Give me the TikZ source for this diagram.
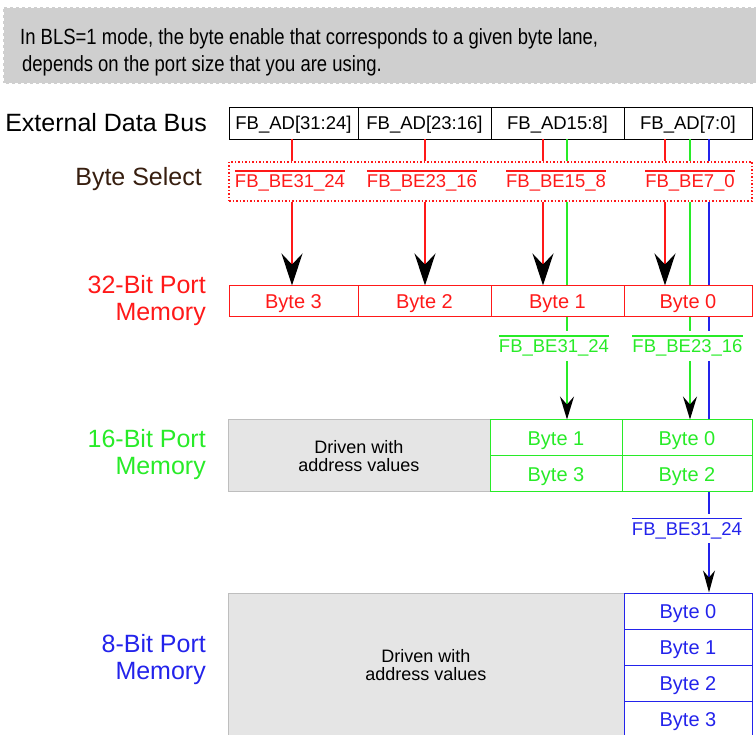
\documentclass[tikz,border=0pt]{standalone}
\usepackage{fontspec}
\setmainfont{Liberation Sans}
\newfontfamily\narrowfont[FakeStretch=0.84]{Liberation Sans}
\usetikzlibrary{arrows.meta}
\definecolor{cred}{RGB}{255,25,25}
\definecolor{cgreen}{RGB}{40,235,40}
\definecolor{cblue}{RGB}{35,35,235}
\definecolor{cbrown}{RGB}{55,30,15}
\definecolor{bannergray}{RGB}{207,207,207}
\definecolor{drivegray}{RGB}{229,229,229}
\definecolor{drivebord}{RGB}{190,190,190}
\newcommand\ovl[1]{\vbox{\hrule height 1.1pt\kern 3.5pt\hbox{#1}}}
\begin{document}
\begin{tikzpicture}[x=1pt,y=-1pt,
  bigl/.style={font=\fontsize{25}{27}\selectfont, align=right, anchor=base east, inner sep=0pt},
  buscell/.style={draw=black, line width=0.9pt, minimum height=32pt, inner sep=0pt,
    font=\fontsize{18.5}{20}\selectfont, text height=13.2pt, text depth=0pt},
  cell/.style={line width=1pt, inner sep=0pt, font=\fontsize{20}{22}\selectfont,
    text height=14.3pt, text depth=0pt},
  belabel/.style={font=\fontsize{18.5}{20}\selectfont, anchor=base, inner sep=4pt},
  drive/.style={draw=drivebord, fill=drivegray, line width=1pt, inner sep=0pt,
    align=center, font=\fontsize{18}{18}\selectfont},
  redline/.style={draw=cred, line width=2pt},
  gline/.style={draw=cgreen, line width=1.5pt},
  bline/.style={draw=cblue, line width=1.2pt},
  bigtip/.style={-{Stealth[length=32pt,width=21pt,inset=11pt,color=black]}},
  midtip/.style={-{Stealth[length=23pt,width=14pt,inset=8pt,color=black]}},
  smalltip/.style={-{Stealth[length=22pt,width=12pt,inset=7pt,color=black]}}
]
\clip (0,0) rectangle (756,735);

% banner
\node[fill=bannergray, draw=white, line width=1.5pt, dash pattern=on 3pt off 3pt,
  minimum width=757pt, minimum height=77pt, inner sep=0pt] (banner) at (381.5,45.5) {};
\node[font=\narrowfont\fontsize{22}{27}\selectfont, align=left, anchor=base west, inner sep=0pt]
  (btext) at (20,72) {In BLS=1 mode, the byte enable that corresponds to a given byte lane,\\\kern2pt depends on the port size that you are using.};

% left labels
\node[bigl] (lext) at (207,132) {External Data Bus};
\node[bigl, text=cbrown] (lsel) at (202,186) {Byte Select};
\node[bigl, text=cred] (l32) at (206,321) {32-Bit Port\\Memory};
\node[bigl, text=cgreen] (l16) at (206,475) {16-Bit Port\\Memory};
\node[bigl, text=cblue] (l8) at (206,679) {8-Bit Port\\Memory};

% external data bus
\node[buscell, minimum width=129pt] (ad31) at (293.5,123) {FB\_AD[31:24]};
\node[buscell, minimum width=133pt] (ad23) at (424.5,123) {FB\_AD[23:16]};
\node[buscell, minimum width=133pt] (ad15) at (557.5,123) {FB\_AD15:8]};
\node[buscell, minimum width=128pt] (ad7) at (688,123) {FB\_AD[7:0]};

% byte select
\node[draw=cred, line width=1.5pt, dash pattern=on 1.5pt off 2pt,
  minimum width=523pt, minimum height=39pt, inner sep=0pt] (bsel) at (490.5,181.5) {};
\node[belabel, text=cred] (be31) at (290,188) {\ovl{FB\_BE31\_24}};
\node[belabel, text=cred] (be23) at (422,188) {\ovl{FB\_BE23\_16}};
\node[belabel, text=cred] (be15) at (556,188) {\ovl{FB\_BE15\_8}};
\node[belabel, text=cred] (be7) at (690,188) {\ovl{FB\_BE7\_0}};

% 32-bit port memory
\node[cell, draw=cred, text=cred, minimum width=129pt, minimum height=31pt] (m3) at (293.5,301.5) {Byte 3};
\node[cell, draw=cred, text=cred, minimum width=133pt, minimum height=31pt] (m2) at (424.5,301.5) {Byte 2};
\node[cell, draw=cred, text=cred, minimum width=133pt, minimum height=31pt] (m1) at (557.5,301.5) {Byte 1};
\node[cell, draw=cred, text=cred, minimum width=128pt, minimum height=31pt] (m0) at (688,301.5) {Byte 0};

% 16-bit port memory
\node[drive, minimum width=262pt, minimum height=72pt] (g16) at (359,456) {Driven with\\address values};
\node[cell, draw=cgreen, text=cgreen, minimum width=132pt, minimum height=36pt] (h1) at (556,438) {Byte 1};
\node[cell, draw=cgreen, text=cgreen, minimum width=130pt, minimum height=36pt] (h0) at (687,438) {Byte 0};
\node[cell, draw=cgreen, text=cgreen, minimum width=132pt, minimum height=36pt] (h3) at (556,474) {Byte 3};
\node[cell, draw=cgreen, text=cgreen, minimum width=130pt, minimum height=36pt] (h2) at (687,474) {Byte 2};
\node[belabel, text=cgreen] (gl1) at (554,353) {\ovl{FB\_BE31\_24}};
\node[belabel, text=cgreen] (gl2) at (687.5,353) {\ovl{FB\_BE23\_16}};

% 8-bit port memory
\node[drive, minimum width=396pt, minimum height=144pt] (g8) at (426,665) {Driven with\\address values};
\node[cell, draw=cblue, text=cblue, minimum width=128pt, minimum height=36pt] (e0) at (688,611) {Byte 0};
\node[cell, draw=cblue, text=cblue, minimum width=128pt, minimum height=36pt] (e1) at (688,647) {Byte 1};
\node[cell, draw=cblue, text=cblue, minimum width=128pt, minimum height=36pt] (e2) at (688,683) {Byte 2};
\node[cell, draw=cblue, text=cblue, minimum width=128pt, minimum height=36pt] (e3) at (688,719) {Byte 3};
\node[belabel, text=cblue] (bl) at (687,535.5) {\ovl{FB\_BE31\_24}};

% lane positions
\coordinate (r1) at (292,0);
\coordinate (r2) at (425,0);
\coordinate (r3) at (543,0);
\coordinate (r4) at (665,0);
\coordinate (g1) at (567,0);
\coordinate (g2) at (690,0);
\coordinate (b1) at (709,0);

% red lanes
\foreach \c/\t/\m in {r1/ad31/m3, r2/ad23/m2, r3/ad15/m1, r4/ad7/m0} {
  \draw[redline] (\t.south -| \c) -- (bsel.north -| \c);
  \draw[redline, bigtip] (bsel.south -| \c) -- (\m.north -| \c);
}

% green lanes
\foreach \c/\t/\m/\l/\h in {g1/ad15/m1/gl1/h1, g2/ad7/m0/gl2/h0} {
  \draw[gline] (\t.south -| \c) -- (bsel.north -| \c);
  \draw[gline] (bsel.south -| \c) -- (\m.north -| \c);
  \draw[gline] (\m.south -| \c) -- (\l.north -| \c);
  \draw[gline, midtip] (\l.south -| \c) -- (\h.north -| \c);
}

% blue lane
\draw[bline] (ad7.south -| b1) -- (bsel.north -| b1);
\draw[bline] (bsel.south -| b1) -- (m0.north -| b1);
\draw[bline] (m0.south -| b1) -- (gl2.north -| b1);
\draw[bline] (gl2.south -| b1) -- (h0.north -| b1);
\draw[bline] (h2.south -| b1) -- (bl.north -| b1);
\draw[bline, smalltip] (bl.south -| b1) -- (e0.north -| b1);
\end{tikzpicture}
\end{document}
